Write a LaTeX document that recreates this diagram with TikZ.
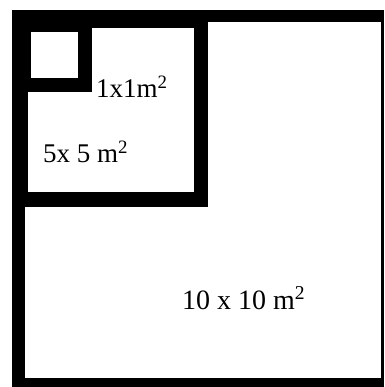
\documentclass[tikz,border=0pt]{standalone}
\usepackage{fontspec}
\setmainfont{Liberation Serif}
\begin{document}
\begin{tikzpicture}[
        x=1pt, y=-1pt,
        wall/.style={fill=black},
        room/.style={fill=white},
        area/.style={
            anchor=base west,
            inner sep=0pt,
            font=\fontsize{27}{30}\selectfont
        }
    ]
        \useasboundingbox (0,0) rectangle (384,387);
        \fill[wall] (12,10) rectangle (384,387);
        \fill[room] (25,22) rectangle (381,378);
        \fill[wall] (12,10) rectangle (208,207);
        \fill[room] (28,28) rectangle (194,192);
        \fill[wall] (12,10) rectangle (92,92);
        \fill[room] (31,32) rectangle (78,78);

        \node[area] (small) at (96,98) {1x1m\textsuperscript{2}};
        \node[area] (medium) at (43,163) {5x 5 m\textsuperscript{2}};
        \node[area, font=\fontsize{28}{32}\selectfont] (large) at (182,309) {10 x 10 m\textsuperscript{2}};
    \end{tikzpicture}
\end{document}
